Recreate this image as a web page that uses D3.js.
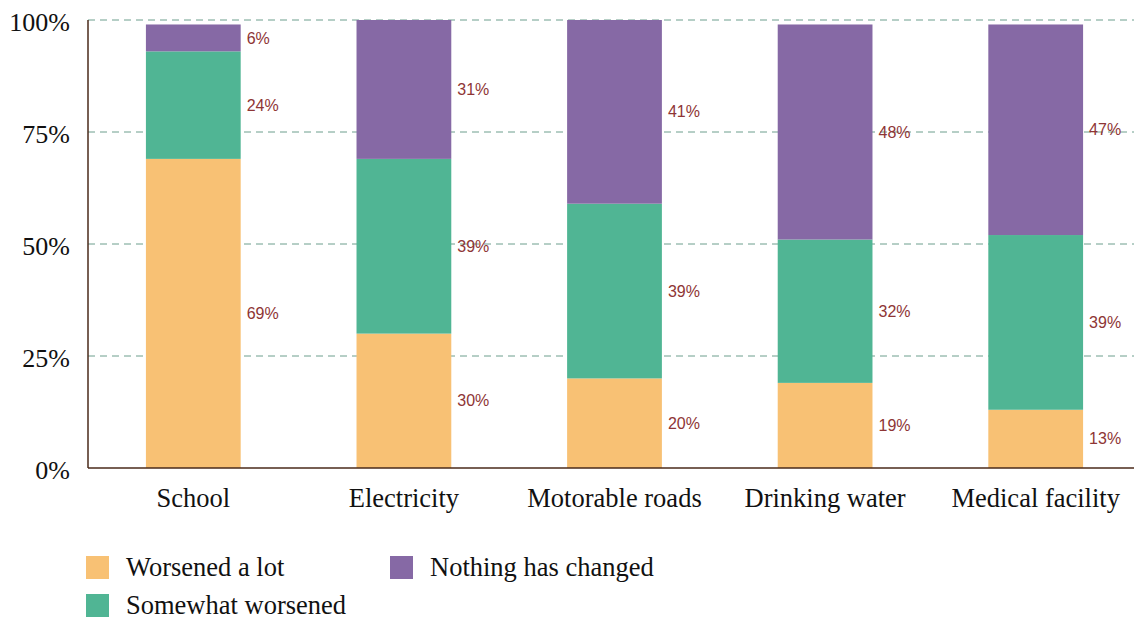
<!DOCTYPE html>
<html>
<head>
<meta charset="utf-8">
<script src="https://cdn.jsdelivr.net/npm/d3@7"></script>
<style>
  body { margin: 0; background: #fff; }
  .tick-label { font-family: "Liberation Serif", serif; font-size: 26px; fill: #111; }
  .cat-label { font-family: "Liberation Serif", serif; font-size: 26.5px; fill: #111; }
  .legend-label { font-family: "Liberation Serif", serif; font-size: 26.5px; fill: #111; }
  .value-label { font-family: "Liberation Sans", Arial, sans-serif; font-size: 16px; fill: #8e3535; }
</style>
</head>
<body>
<div id="chart"></div>
<script>
// Data
const categories = ["School", "Electricity", "Motorable roads", "Drinking water", "Medical facility"];
const seriesNames = ["Worsened a lot", "Somewhat worsened", "Nothing has changed"];
const worsenedLot = [69, 30, 20, 19, 13];
const somewhatWorsened = [24, 39, 39, 32, 39];
const nothingChanged = [6, 31, 41, 48, 47];
const yTicks = [0, 25, 50, 75, 100];
const colors = ["#f8c174", "#50b594", "#8669a5"];

const width = 1134, height = 617;
const margin = { top: 20, right: -7, bottom: 149, left: 88 };

const svg = d3.select("#chart").append("svg")
    .attr("width", width)
    .attr("height", height);

// build rows for the stack
const rows = categories.map((c, i) => ({
    category: c,
    s0: worsenedLot[i],
    s1: somewhatWorsened[i],
    s2: nothingChanged[i]
}));
const stacked = d3.stack().keys(["s0", "s1", "s2"])(rows);

const xScale = d3.scaleBand()
    .domain(categories)
    .range([margin.left, width - margin.right])
    .paddingInner(0.55)
    .paddingOuter(0.275);

const yScale = d3.scaleLinear()
    .domain([0, 100])
    .range([height - margin.bottom, margin.top]);

// Grid lines
svg.append("g")
    .selectAll("line")
    .data(yTicks.filter(d => d > 0))
    .enter()
    .append("line")
        .attr("x1", margin.left)
        .attr("x2", width)
        .attr("y1", d => yScale(d))
        .attr("y2", d => yScale(d))
        .attr("stroke", "#6d9e8d")
        .attr("stroke-width", 1)
        .attr("stroke-dasharray", "7,5");

// Bars
const layers = svg.append("g")
    .selectAll("g")
    .data(stacked)
    .enter()
    .append("g")
        .attr("fill", (d, i) => colors[i]);

layers.selectAll("rect")
    .data(d => d)
    .enter()
    .append("rect")
        .attr("x", d => xScale(d.data.category))
        .attr("y", d => yScale(d[1]))
        .attr("width", xScale.bandwidth())
        .attr("height", d => yScale(d[0]) - yScale(d[1]));

// Value labels
const labels = svg.append("g");
stacked.forEach(layer => {
    labels.selectAll(null)
        .data(layer)
        .enter()
        .append("text")
            .attr("class", "value-label")
            .attr("x", d => xScale(d.data.category) + xScale.bandwidth() + 6)
            .attr("y", d => yScale((d[0] + d[1]) / 2))
            .attr("dy", "0.35em")
            .text(d => (d[1] - d[0]) + "%");
});

// Axes lines
svg.append("line")
    .attr("x1", margin.left).attr("x2", margin.left)
    .attr("y1", yScale(100)).attr("y2", yScale(0))
    .attr("stroke", "#4a2a1a").attr("stroke-width", 1.5);
svg.append("line")
    .attr("x1", margin.left).attr("x2", width)
    .attr("y1", yScale(0)).attr("y2", yScale(0))
    .attr("stroke", "#4a2a1a").attr("stroke-width", 1.5);

// Y tick labels
svg.append("g")
    .selectAll("text")
    .data(yTicks)
    .enter()
    .append("text")
        .attr("class", "tick-label")
        .attr("x", 70)
        .attr("y", d => yScale(d))
        .attr("dy", "0.42em")
        .attr("text-anchor", "end")
        .text(d => d + "%");

// Category labels
svg.append("g")
    .selectAll("text")
    .data(categories)
    .enter()
    .append("text")
        .attr("class", "cat-label")
        .attr("x", d => xScale(d) + xScale.bandwidth() / 2)
        .attr("y", 507)
        .attr("text-anchor", "middle")
        .text(d => d);

// Legend
const legendPos = [[86, 556], [86, 594], [390, 556]];
const legend = svg.append("g")
    .selectAll("g")
    .data(seriesNames)
    .enter()
    .append("g")
        .attr("transform", (d, i) => `translate(${legendPos[i][0]},${legendPos[i][1]})`);
legend.append("rect")
    .attr("width", 23)
    .attr("height", 23)
    .attr("fill", (d, i) => colors[i]);
legend.append("text")
    .attr("class", "legend-label")
    .attr("x", 40)
    .attr("y", 20)
    .text(d => d);
</script>
</body>
</html>
